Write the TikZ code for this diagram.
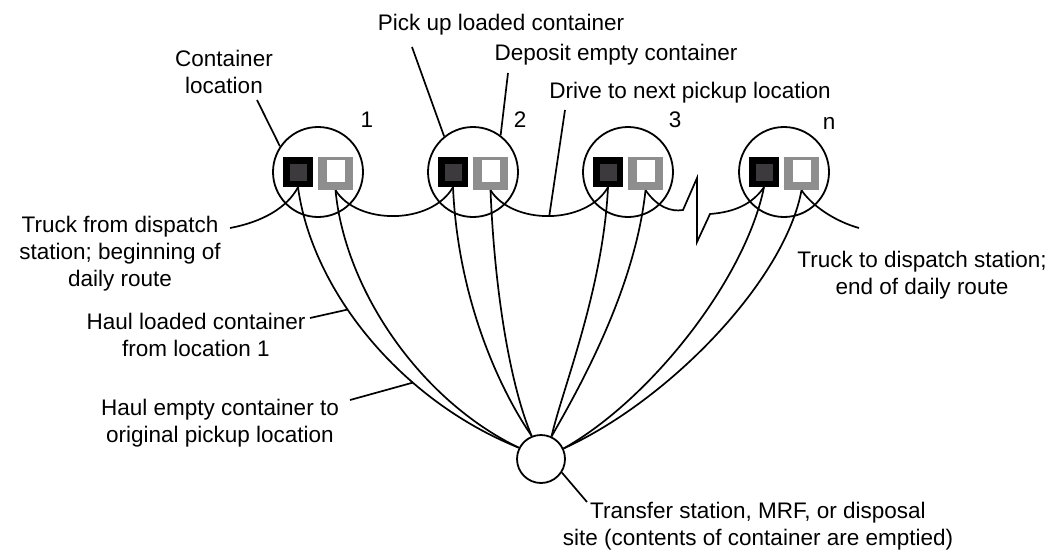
\documentclass[tikz,border=0pt]{standalone}
\usepackage{fontspec}
\setmainfont{Liberation Sans}
\usetikzlibrary{calc}
\definecolor{sqinner}{HTML}{3C3A3C}
\definecolor{boxgray}{HTML}{8E8E8E}
\begin{document}
\begin{tikzpicture}[x=1pt,y=-1pt,
  loc/.style={circle,draw,line width=1.8pt,minimum size=90pt,inner sep=0pt},
  site/.style={circle,draw,line width=1.8pt,minimum size=48pt,inner sep=0pt},
  blacksq/.style={rectangle,fill=black,minimum size=30pt,inner sep=0pt},
  blackin/.style={rectangle,fill=sqinner,minimum size=17pt,inner sep=0pt},
  lightsq/.style={rectangle,fill=boxgray,minimum width=35pt,minimum height=33pt,inner sep=0pt},
  lightin/.style={rectangle,fill=white,minimum width=18pt,minimum height=22pt,inner sep=0pt},
  lbl/.style={font=\fontsize{22.5}{27}\selectfont,align=center,inner sep=0pt},
  conn/.style={line width=1.7pt},
]
\useasboundingbox (0,0) rectangle (1048,549);

% container locations
\foreach \i/\x in {1/318,2/473,3/628,4/784}{
  \node[loc] (c\i) at (\x,172) {};
  \node[blacksq] (b\i) at (\x-20,172) {};
  \node[blackin] at (b\i) {};
  \node[lightsq] (l\i) at (\x+17.5,173.5) {};
  \node[lightin] at (\x+18,171) {};
}
\node[site] (S) at (541,459) {};

% numbers
\node[lbl] (n1) at (367,120) {1};
\node[lbl] (n2) at (520,120) {2};
\node[lbl] (n3) at (675,120) {3};
\node[lbl] (n4) at (829,123) {n};

% labels
\node[lbl] (tPick) at (501,24.4) {Pick up loaded container};
\node[lbl] (tDep) at (616,54.4) {Deposit empty container};
\node[lbl] (tDrive) at (690,92.4) {Drive to next pickup location};
\node[lbl] (tCont) at (224,71.5) {Container\\location};
\node[lbl] (tFrom) at (120,253.4) {Truck from dispatch\\station; beginning of\\daily route};
\node[lbl] (tHaulL) at (196,335) {Haul loaded container\\from location 1};
\node[lbl] (tHaulE) at (220,423) {Haul empty container to\\original pickup location};
\node[lbl] (tTo) at (922,275.4) {Truck to dispatch station;\\end of daily route};
\node[lbl] (tSite) at (758,526) {Transfer station, MRF, or disposal\\site (contents of container are emptied)};

% free ends
\coordinate (s0) at (230,228);
\coordinate (e0) at (859,228);
\coordinate (z1) at (683,210);
\coordinate (z2) at (697,178);
\coordinate (z3) at (697,242);
\coordinate (z4) at (710,214);
\coordinate (p1) at (257,100);
\coordinate (p2) at (412,47);
\coordinate (p3) at (508,73);
\coordinate (p4) at (565,110);
\coordinate (p5) at (310,318);
\coordinate (p6) at (350,400);
\coordinate (p7) at (587,502);

% daily route
\draw[conn] (s0) .. controls (262,222) and (287,208) .. (b1.south);
\draw[conn] (l1.south) .. controls ($(l1.south)+(22,35)$) and ($(b2.south)+(-22,38)$) .. (b2.south);
\draw[conn] (l2.south) .. controls ($(l2.south)+(22,35)$) and ($(b3.south)+(-22,38)$) .. (b3.south) coordinate[pos=0.5] (mid23);
\draw[conn] (l3.south) .. controls ($(l3.south)+(12,17)$) and ($(z1)+(-12,2)$) .. (z1) -- (z2) -- (z3) -- (z4)
  .. controls ($(z4)+(25,-2)$) and ($(b4.south)+(-12,17)$) .. (b4.south);
\draw[conn] (l4.south) .. controls ($(l4.south)+(10,15)$) and ($(e0)+(-25,-7)$) .. (e0);

% haul trips
\draw[conn] (b1.south) .. controls (312,290) and (400,400) .. (S.153) coordinate[pos=0.4] (hl) coordinate[pos=0.67] (he);
\draw[conn] (l1.south) .. controls (345,290) and (420,400) .. (S.153);
\draw[conn] (b2.south) .. controls (458,300) and (500,390) .. (S.112);
\draw[conn] (l2.south) .. controls (495,300) and (512,390) .. (S.112);
\draw[conn] (b3.south) .. controls (603,290) and (562,390) .. (S.65);
\draw[conn] (l3.south) .. controls (635,290) and (578,390) .. (S.65);
\draw[conn] (b4.south) .. controls (745,280) and (650,400) .. (S.25);
\draw[conn] (l4.south) .. controls (785,280) and (670,400) .. (S.25);

% pointers
\draw[conn] (p1) -- (c1.146);
\draw[conn] (p2) -- (c2.129);
\draw[conn] (p3) -- (c2.53);
\draw[conn] (p4) -- (mid23);
\draw[conn] (p5) -- (hl);
\draw[conn] (p6) -- (he);
\draw[conn] (S.-33) -- (p7);
\end{tikzpicture}
\end{document}
